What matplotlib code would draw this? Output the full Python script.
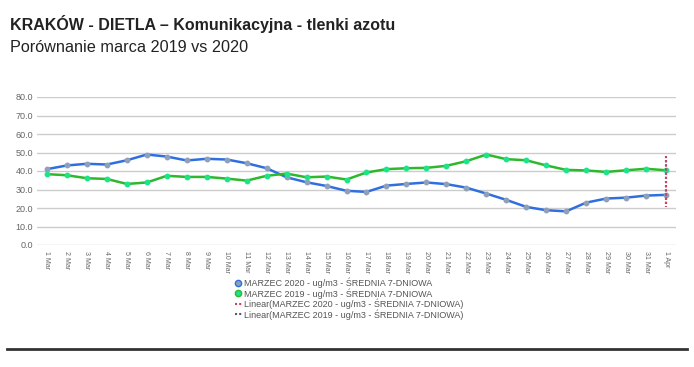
import matplotlib
matplotlib.use("Agg")
import matplotlib.pyplot as plt
from matplotlib.lines import Line2D

plt.rcParams['font.family'] = ['Liberation Sans', 'DejaVu Sans']

labels = [f"{d} Mar" for d in range(1, 32)] + ["1 Apr"]
marzec_2020 = [41.0, 43.0, 43.9, 43.5, 45.8, 48.9, 47.8, 45.7, 46.6, 46.2, 44.2, 41.5,
               36.6, 33.9, 31.9, 29.3, 28.7, 32.1, 33.0, 33.8, 32.9, 31.0, 27.8, 24.4,
               20.6, 18.8, 18.2, 22.9, 25.1, 25.6, 26.7, 27.1]
marzec_2019 = [38.3, 37.7, 36.1, 35.7, 33.0, 33.8, 37.4, 36.8, 36.8, 35.9, 34.8, 37.4,
               38.6, 36.6, 37.0, 35.4, 39.2, 41.0, 41.5, 41.7, 42.8, 45.3, 48.9, 46.4,
               45.8, 43.0, 40.6, 40.3, 39.5, 40.4, 41.2, 40.4]
trend_2020 = [48.2, 20.8]
trend_2019 = [48.2, 20.8]
yticks = [0, 10, 20, 30, 40, 50, 60, 70, 80]

fig = plt.figure(figsize=(6.94, 3.67), dpi=100)
ax = fig.add_axes([37/694, 1-245/367, (676-37)/694, (245-97)/367])

x = list(range(len(labels)))
ax.plot(x, marzec_2020, color='#2f6fe0', lw=1.8, marker='o', ms=3.2,
        mfc='#8fa0b8', mec='#8fa0b8', zorder=3)
ax.plot(x, marzec_2019, color='#2db82d', lw=1.8, marker='o', ms=3.2,
        mfc='#1de38a', mec='#1de38a', zorder=3)
xl = x[-1]
ax.plot([xl, xl], trend_2019, color='#505a80', lw=1.5, ls=(0, (1, 1)), zorder=4)
ax.plot([xl, xl], trend_2020, color='#d04060', lw=1.5, ls=(0, (1, 1)), zorder=5)

ax.set_xlim(-0.5, len(labels) - 0.5)
ax.set_ylim(0, 80)
ax.set_yticks(yticks)
ax.set_yticklabels([f"{v:.1f}" for v in yticks], fontsize=6.5, color='#666666')
ax.set_xticks(x)
ax.set_xticklabels(labels, rotation=270, fontsize=5, color='#666666', va='top', ha='center')
ax.tick_params(length=0, pad=4)
ax.tick_params(axis='y', pad=3)
ax.grid(axis='y', color='#cccccc', lw=1)
ax.set_axisbelow(True)
for s in ax.spines.values():
    s.set_visible(False)

handles = [
    Line2D([], [], ls='none', marker='o', ms=4.5, mfc='#8fa0b8', mec='#2f6fe0'),
    Line2D([], [], ls='none', marker='o', ms=4.5, mfc='#1de38a', mec='#2db82d'),
    Line2D([], [], color='#d04060', lw=1.5, ls=(0, (1, 1))),
    Line2D([], [], color='#505a80', lw=1.5, ls=(0, (1, 1))),
]
names = ["MARZEC 2020 - ug/m3 - ŚREDNIA 7-DNIOWA",
         "MARZEC 2019 - ug/m3 - ŚREDNIA 7-DNIOWA",
         "Linear(MARZEC 2020 - ug/m3 - ŚREDNIA 7-DNIOWA)",
         "Linear(MARZEC 2019 - ug/m3 - ŚREDNIA 7-DNIOWA)"]
fig.legend(handles, names, loc='upper left', bbox_to_anchor=(230/694, 1-273/367),
           frameon=False, fontsize=6.5, handlelength=0.8, handletextpad=0.2,
           labelspacing=0.0, borderpad=0, labelcolor='#555555')

fig.text(10/694, 1-24/367, "KRAKÓW - DIETLA – Komunikacyjna - tlenki azotu",
         fontsize=11.5, fontweight='bold', color='#222222', va='center', ha='left')
fig.text(10/694, 1-48/367, "Porównanie marca 2019 vs 2020",
         fontsize=11.7, color='#222222', va='center', ha='left')
fig.add_artist(Line2D([7/694, 687/694], [1-349/367, 1-349/367], color='#333333', lw=2))

fig.savefig("out.png", dpi=100)
